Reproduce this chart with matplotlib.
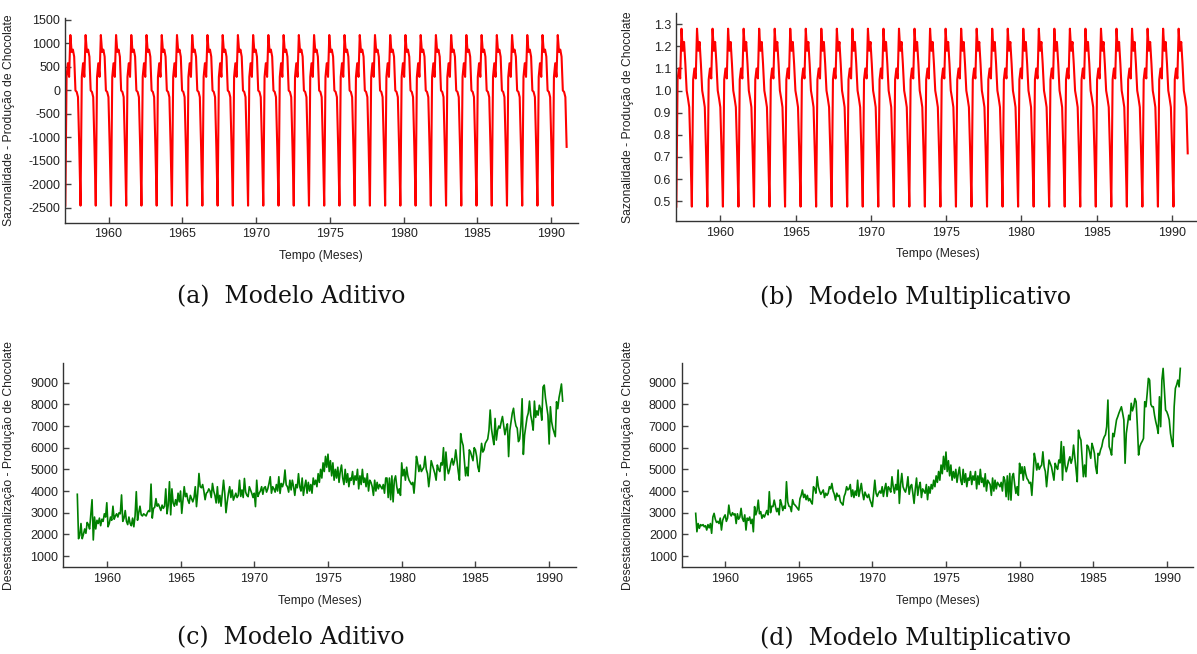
import numpy as np
import matplotlib
matplotlib.use("Agg")
import matplotlib.pyplot as plt

# ---------------- data ----------------
months_per_year = 12
first_year = 1958
n_years = 33

# seasonal indices (Jan..Dec)
seas_add = [-2450, 290, 580, 290, 1180, 820, 870, 720, 0, -30, -140, -1200]
seas_mult = [0.475, 1.05, 1.10, 1.055, 1.28, 1.18, 1.22, 1.12, 1.00, 0.965, 0.925, 0.716]
seas_x_start, seas_x_end = 1957.07, 1991.05

# deseasonalised series, additive model (one row per year, Jan..Dec)
desaz_add = [
    [3850, 1800, 1950, 2500, 1800, 2000, 2250, 2050, 2550, 2450, 2250, 2950],  # 1958
    [3600, 1740, 2800, 2250, 2650, 2500, 2750, 2400, 2700, 2600, 2950, 2800],  # 1959
    [3460, 2350, 2500, 2800, 2650, 3300, 2700, 2850, 2950, 2800, 3000, 2950],  # 1960
    [3820, 2600, 2750, 3100, 2600, 2450, 2800, 2500, 2400, 2750, 2350, 2850],  # 1961
    [3970, 2650, 3000, 3300, 2900, 2850, 2950, 2900, 2850, 3000, 3100, 3050],  # 1962
    [4320, 2750, 3200, 3250, 3650, 3300, 3400, 3250, 3100, 3350, 3200, 3300],  # 1963
    [4100, 2950, 3350, 4430, 2900, 4100, 3450, 3300, 3600, 3350, 3900, 3500],  # 1964
    [4000, 2970, 3580, 4200, 3740, 3890, 3580, 3430, 3800, 3650, 3500, 3700],  # 1965
    [4200, 3280, 3900, 4810, 4200, 4150, 4300, 4000, 3600, 3900, 3950, 4100],  # 1966
    [4000, 3700, 4350, 4000, 3800, 3450, 4200, 3450, 3800, 3300, 3900, 4500],  # 1967
    [3900, 3000, 3500, 3900, 4200, 3700, 4050, 3580, 3740, 3900, 3700, 3800],  # 1968
    [4500, 3750, 4050, 3700, 4580, 3950, 3800, 3740, 4200, 4050, 3890, 3700],  # 1969
    [3900, 3280, 4500, 3750, 3900, 4000, 4200, 3850, 4150, 4200, 3950, 4100],  # 1970
    [4350, 4660, 3900, 4200, 4100, 3950, 4300, 4000, 4660, 3890, 4350, 4200],  # 1971
    [4400, 4970, 4280, 4200, 3950, 4500, 4050, 4500, 4200, 3800, 4300, 4150],  # 1972
    [4800, 4200, 4000, 4600, 3800, 4200, 4500, 3900, 4400, 4000, 4300, 3900],  # 1973
    [4600, 4300, 4500, 4200, 4800, 4400, 5000, 4600, 5300, 4900, 5600, 5100],  # 1974
    [5700, 4900, 5400, 4700, 5300, 4500, 5000, 4600, 5100, 4400, 4900, 5200],  # 1975
    [4600, 4300, 5000, 4400, 4800, 4200, 4600, 4500, 4900, 4300, 4700, 4500],  # 1976
    [5000, 4100, 4700, 4300, 5000, 4400, 4600, 4200, 4800, 4000, 4500, 4400],  # 1977
    [4200, 3800, 4500, 4000, 4400, 4100, 4300, 4200, 4100, 4300, 3900, 4600],  # 1978
    [4600, 3700, 4600, 3600, 4700, 3500, 4500, 4700, 4200, 3900, 4100, 3800],  # 1979
    [5300, 4700, 5000, 4500, 5100, 4700, 4500, 4400, 4300, 4400, 3900, 4600],  # 1980
    [5600, 5300, 4900, 5200, 4900, 5000, 5100, 5600, 5000, 4800, 4200, 4700],  # 1981
    [5400, 5200, 5000, 4800, 4500, 5200, 5000, 4900, 5300, 5200, 6000, 4500],  # 1982
    [5800, 5100, 4800, 5000, 5300, 5500, 5200, 5400, 5900, 5400, 4900, 4500],  # 1983
    [6650, 6300, 6100, 5400, 4700, 5100, 4700, 5900, 5800, 5600, 5400, 6000],  # 1984
    [5900, 5600, 5100, 4900, 5600, 6200, 5800, 5900, 6200, 6300, 6400, 6800],  # 1985
    [7740, 6900, 6500, 6140, 7350, 6350, 6800, 7000, 6900, 7200, 7440, 7000],  # 1986
    [6600, 6900, 7100, 5590, 6800, 7200, 7600, 7820, 7300, 7000, 6900, 6280],  # 1987
    [6400, 7000, 8260, 5690, 6580, 7000, 7400, 7600, 8150, 7500, 7200, 6810],  # 1988
    [8150, 7400, 7700, 7500, 7960, 7800, 7270, 8800, 8890, 8300, 7890, 7500],  # 1989
    [6170, 7890, 7200, 6900, 6700, 6510, 8120, 7800, 8300, 8600, 8940, 8150],  # 1990
]

# deseasonalised series, multiplicative model
desaz_mult = [
    [2970, 2120, 2500, 2280, 2450, 2400, 2450, 2350, 2400, 2200, 2450, 2300],  # 1958
    [2500, 2050, 2800, 2970, 2700, 2550, 2600, 2500, 2750, 2200, 2650, 2800],  # 1959
    [2900, 2600, 2750, 3350, 2950, 2850, 3000, 2900, 2950, 2500, 2950, 2700],  # 1960
    [2800, 3200, 2750, 2600, 2900, 2200, 2750, 2650, 2800, 2500, 2700, 2120],  # 1961
    [3280, 2900, 3100, 3580, 2950, 3050, 2740, 2900, 2800, 2950, 3100, 2900],  # 1962
    [3970, 3000, 3300, 3280, 3580, 3300, 3050, 3200, 2900, 3600, 3400, 3100],  # 1963
    [3300, 3200, 4430, 3500, 3300, 3280, 3050, 3600, 3400, 3350, 3280, 3200],  # 1964
    [3120, 3650, 3800, 4050, 3700, 3850, 3600, 3800, 3550, 3650, 3500, 3400],  # 1965
    [4200, 4100, 3900, 4660, 4200, 4000, 3850, 3950, 4050, 3700, 3900, 3800],  # 1966
    [3900, 4200, 4100, 4350, 4000, 3850, 3580, 3900, 3750, 3800, 3500, 3430],  # 1967
    [3350, 3750, 3900, 4200, 4050, 4100, 4300, 3750, 4050, 3700, 4000, 3800],  # 1968
    [4500, 3750, 4050, 4350, 3900, 3600, 3950, 3800, 3700, 3850, 3600, 3450],  # 1969
    [3280, 3900, 4500, 3900, 3750, 3900, 4000, 3900, 4200, 3750, 4100, 4350],  # 1970
    [3750, 4200, 4100, 3950, 4660, 4200, 3900, 4300, 4050, 4970, 3430, 4300],  # 1971
    [4810, 4200, 4050, 3950, 4200, 4660, 3850, 4200, 4300, 3900, 3430, 4100],  # 1972
    [4600, 3800, 4200, 4400, 3700, 4100, 4000, 3900, 4300, 3600, 4200, 3900],  # 1973
    [4300, 4100, 4500, 4200, 4700, 4400, 4900, 4500, 5200, 4800, 5600, 5000],  # 1974
    [5800, 4900, 5400, 4700, 5200, 4500, 4900, 4600, 5000, 4400, 4800, 5100],  # 1975
    [4500, 4300, 5000, 4400, 4800, 4200, 4600, 4500, 4900, 4300, 4700, 4500],  # 1976
    [4900, 4100, 4700, 4300, 5000, 4400, 4600, 4200, 4800, 4000, 4500, 4400],  # 1977
    [4300, 3800, 4600, 4000, 4500, 4100, 4400, 4300, 4200, 4400, 4000, 4660],  # 1978
    [4500, 3740, 4700, 3600, 4810, 3580, 4660, 4810, 4300, 3890, 4200, 3800],  # 1979
    [5280, 4810, 5120, 4500, 5120, 4800, 4580, 4500, 4350, 4400, 3800, 4700],  # 1980
    [5740, 5430, 4970, 5280, 5000, 5120, 5200, 5810, 5120, 4900, 4200, 4800],  # 1981
    [5430, 5280, 5120, 4800, 4500, 5280, 5120, 5000, 5430, 5300, 6280, 4500],  # 1982
    [6050, 5200, 4890, 5120, 5400, 5580, 5280, 5500, 6120, 5580, 5000, 4430],  # 1983
    [6810, 6500, 6350, 5510, 4660, 5200, 4660, 6120, 6050, 5800, 5510, 6200],  # 1984
    [6000, 5740, 5120, 4810, 5740, 5660, 5900, 6050, 6350, 6500, 6600, 6970],  # 1985
    [8200, 6050, 5890, 5660, 6660, 6510, 6900, 7280, 7430, 7600, 7740, 7890],  # 1986
    [7600, 7280, 5280, 6660, 7100, 7500, 7280, 8050, 7700, 7890, 8270, 8120],  # 1987
    [7000, 5660, 6050, 6200, 6300, 6430, 8120, 7890, 8500, 9200, 9120, 8000],  # 1988
    [7890, 7890, 7500, 7200, 6970, 6660, 8350, 6970, 9120, 9660, 8660, 7740],  # 1989
    [7660, 7500, 7280, 6660, 6300, 6050, 7890, 8740, 8900, 9120, 8810, 9660],  # 1990
]

x_ticks = [1960, 1965, 1970, 1975, 1980, 1985, 1990]
yticks_add_seas = list(range(-2500, 1501, 500))
yticks_mult_seas = [0.5, 0.6, 0.7, 0.8, 0.9, 1.0, 1.1, 1.2, 1.3]
yticks_desaz = list(range(1000, 9001, 1000))

xlabel = "Tempo (Meses)"
ylabel_seas = "Sazonalidade - Produção de Chocolate"
ylabel_desaz = "Desestacionalização - Produção de Chocolate"
captions = ["(a)  Modelo Aditivo", "(b)  Modelo Multiplicativo",
            "(c)  Modelo Aditivo", "(d)  Modelo Multiplicativo"]

# ---------------- derived series ----------------
n = n_years * months_per_year
seas_add_series = np.tile(seas_add, n_years)
seas_mult_series = np.tile(seas_mult, n_years)
seas_x = np.linspace(seas_x_start, seas_x_end, n)
t = first_year + np.arange(n) / months_per_year
d_add = np.array(desaz_add, dtype=float).ravel()
d_mult = np.array(desaz_mult, dtype=float).ravel()

# ---------------- figure ----------------
plt.rcParams['axes.unicode_minus'] = False
plt.rcParams['font.family'] = ['Liberation Sans', 'DejaVu Sans']

W, H = 1197, 654
fig = plt.figure(figsize=(W / 100, H / 100), dpi=100)


def px_axes(left, right, top, bottom):
    return fig.add_axes([left / W, 1 - bottom / H, (right - left) / W, (bottom - top) / H])


def style(ax, ylab_x_px, left_px, width_px):
    for s in ['top', 'right']:
        ax.spines[s].set_visible(False)
    for s in ['left', 'bottom']:
        ax.spines[s].set_color('#333333')
        ax.spines[s].set_linewidth(1.0)
    ax.tick_params(direction='in', length=4, width=1, colors='#444444',
                   labelcolor='#222222', labelsize=9)
    ax.tick_params(axis='x', pad=4)
    ax.tick_params(axis='y', pad=3.5)
    ax.set_xlim(1957.05, 1991.8)
    ax.set_xticks(x_ticks)
    ax.set_xlabel(xlabel, fontsize=8.7, color='#222222', labelpad=7)
    ax.yaxis.set_label_coords((ylab_x_px - left_px) / width_px, 0.5)


# (a)
ax1 = px_axes(65, 577.7, 18.3, 222.7)
ax1.plot(seas_x, seas_add_series, color='#ff0000', lw=1.5)
ax1.set_ylim(-2813, 1536)
ax1.set_yticks(yticks_add_seas)
ax1.set_ylabel(ylabel_seas, fontsize=8.7, color='#222222')
style(ax1, 15, 65, 512.7)

# (b)
ax2 = px_axes(676, 1199, 13, 221)
ax2.plot(seas_x, seas_mult_series, color='#ff0000', lw=1.5)
ax2.set_ylim(0.41, 1.351)
ax2.set_yticks(yticks_mult_seas)
ax2.set_yticklabels([f"{v:.1f}" for v in yticks_mult_seas])
ax2.set_ylabel(ylabel_seas, fontsize=8.7, color='#222222')
style(ax2, 634, 676, 523)

# (c)
ax3 = px_axes(63.3, 575.7, 363.3, 567.3)
ax3.plot(t, d_add, color='#008000', lw=1.2)
ax3.set_ylim(480, 9895)
ax3.set_yticks(yticks_desaz)
ax3.set_ylabel(ylabel_desaz, fontsize=8.7, color='#222222')
style(ax3, 15, 63.3, 512.4)

# (d)
ax4 = px_axes(681.7, 1193.3, 363.3, 567.3)
ax4.plot(t, d_mult, color='#008000', lw=1.2)
ax4.set_ylim(480, 9895)
ax4.set_yticks(yticks_desaz)
ax4.set_ylabel(ylabel_desaz, fontsize=8.7, color='#222222')
style(ax4, 634, 681.7, 511.6)

cap_pos = [(291, 297), (915, 297), (291, 638), (915, 638)]
for (cx, cy), txt in zip(cap_pos, captions):
    fig.text(cx / W, 1 - cy / H, txt, ha='center', va='center',
             fontsize=17, family='DejaVu Serif', color='#111111')

fig.savefig('out.png', dpi=100)
